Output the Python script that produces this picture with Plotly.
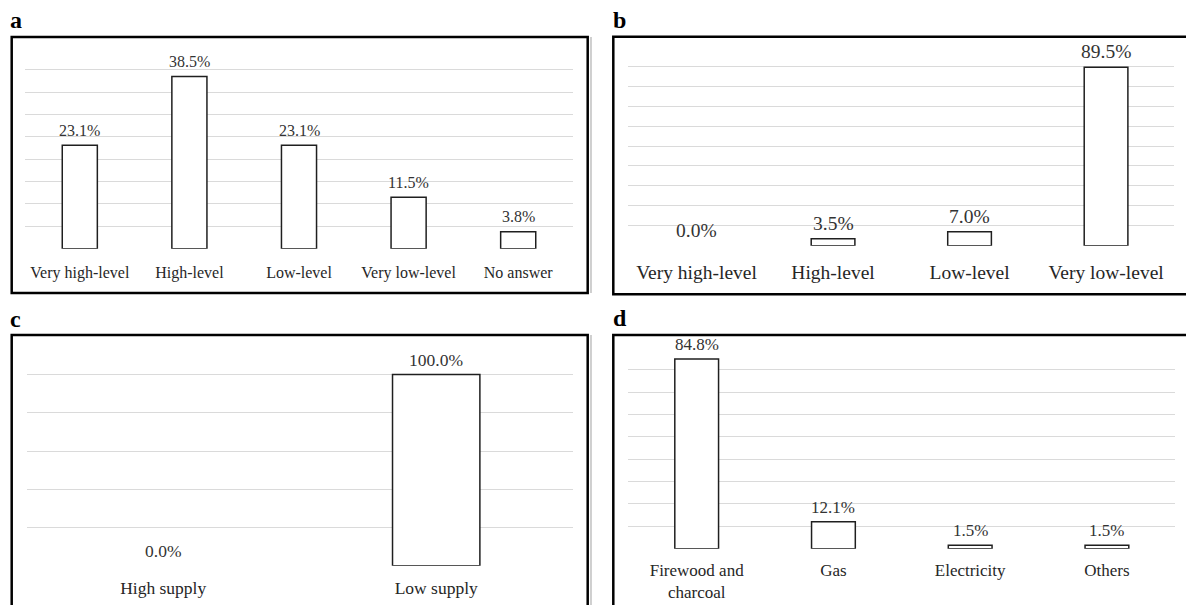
import plotly.graph_objects as go

# ---------------- data ----------------
a_cats = ["Very high-level", "High-level", "Low-level", "Very low-level", "No answer"]
a_vals = [23.1, 38.5, 23.1, 11.5, 3.8]

b_cats = ["Very high-level", "High-level", "Low-level", "Very low-level"]
b_vals = [0.0, 3.5, 7.0, 89.5]

c_cats = ["High supply", "Low supply"]
c_vals = [0.0, 100.0]

d_cats = ["Firewood and<br>charcoal", "Gas", "Electricity", "Others"]
d_vals = [84.8, 12.1, 1.5, 1.5]

panel_letters = ["a", "b", "c", "d"]

# ---------------- layout helpers ----------------
W, H = 1186, 605
SERIF = "Liberation Serif, Times New Roman, serif"


def fx(v):
    return v / W


def fy(v):
    return 1 - v / H


panels = [
    dict(cats=a_cats, vals=a_vals, ymax=45, dtick=5, x0=25, x1=573, ytop=47.3, ybot=248.7,
         fs=16, letter=(8, 20), frame=(11.7, 587.7, 37, 293), stand=12, vshift=4.5),
    dict(cats=b_cats, vals=b_vals, ymax=100, dtick=10, x0=628.3, x1=1174.3, ytop=46.4, ybot=245.7,
         fs=19.5, letter=(611, 20), frame=(613.3, 1192, 36.7, 294.3), stand=13, vshift=3),
    dict(cats=c_cats, vals=c_vals, ymax=120, dtick=20, x0=26.7, x1=572.7, ytop=336.3, ybot=565.7,
         fs=17.5, letter=(8, 319), frame=(11.7, 587.7, 335, 612), stand=10, vshift=3),
    dict(cats=d_cats, vals=d_vals, ymax=90, dtick=10, x0=628.3, x1=1175.3, ytop=347.4, ybot=548.7,
         fs=17, letter=(611, 318), frame=(613.3, 1192, 335, 612), stand=9, vshift=3),
]

fig = go.Figure()
annotations = []
shapes = []
layout_axes = {}

for i, p in enumerate(panels, start=1):
    xa = "x" if i == 1 else f"x{i}"
    ya = "y" if i == 1 else f"y{i}"
    outline_w = [0 if v == 0 else 1.5 for v in p["vals"]]
    fig.add_trace(go.Bar(
        x=p["cats"], y=p["vals"], xaxis=xa, yaxis=ya,
        marker=dict(color="white", line=dict(color="#1f1f1f", width=outline_w)),
        showlegend=False, hoverinfo="skip",
    ))
    layout_axes["xaxis" if i == 1 else f"xaxis{i}"] = dict(
        domain=[fx(p["x0"]), fx(p["x1"])], anchor=ya,
        showline=False, showgrid=False, zeroline=False, ticks="",
        tickfont=dict(family=SERIF, size=p["fs"], color="#262626"),
        ticklabelstandoff=p["stand"], fixedrange=True,
    )
    layout_axes["yaxis" if i == 1 else f"yaxis{i}"] = dict(
        domain=[fy(p["ybot"]), fy(p["ytop"])], anchor=xa,
        range=[0, p["ymax"]], dtick=p["dtick"], tick0=0,
        showticklabels=False, showline=False, zeroline=False,
        showgrid=True, gridcolor="#dadada", gridwidth=1, ticks="", fixedrange=True,
    )
    for c, v in zip(p["cats"], p["vals"]):
        annotations.append(dict(
            x=c, y=v, xref=xa, yref=ya, text=f"{v:.1f}%", showarrow=False,
            yanchor="bottom", xanchor="center", yshift=p["vshift"],
            font=dict(family=SERIF, size=p["fs"], color="#333333"),
        ))
    # panel letter
    lx, ly = p["letter"]
    annotations.append(dict(
        x=fx(lx), y=fy(ly), xref="paper", yref="paper", text=f"<b>{panel_letters[i-1]}</b>",
        showarrow=False, xanchor="left", yanchor="middle",
        font=dict(family=SERIF, size=24, color="black"),
    ))
    # frame
    fx0, fx1, fy0, fy1 = p["frame"]
    shapes.append(dict(type="rect", xref="paper", yref="paper",
                       x0=fx(fx0), x1=fx(fx1), y0=fy(fy1), y1=fy(fy0),
                       line=dict(color="black", width=2.5), fillcolor="rgba(0,0,0,0)"))

# faint separator lines to the right of the left panels
for (y0, y1) in [(37, 293), (335, 605)]:
    shapes.append(dict(type="line", xref="paper", yref="paper",
                       x0=fx(591), x1=fx(591), y0=fy(y1), y1=fy(y0),
                       line=dict(color="#b0b0b0", width=1.2)))

fig.update_layout(
    width=W, height=H, margin=dict(l=0, r=0, t=0, b=0),
    paper_bgcolor="white", plot_bgcolor="white", template="none",
    bargap=0.68, showlegend=False, hovermode=False,
    annotations=annotations, shapes=shapes,
    **layout_axes,
)

fig.write_html(
    "out.html",
    config={"displayModeBar": False, "staticPlot": True},
    post_script="document.body.style.margin='0';document.body.style.overflow='hidden';",
)
